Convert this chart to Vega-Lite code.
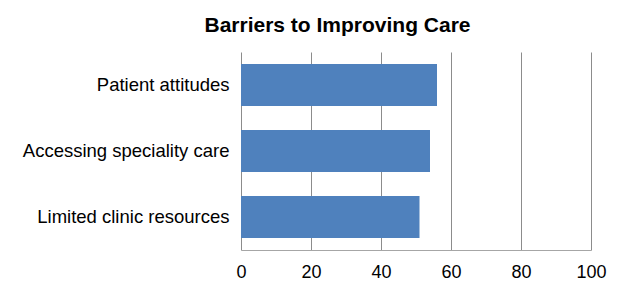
{
  "$schema": "https://vega.github.io/schema/vega-lite/v6.json",
  "width": 350,
  "height": 198,
  "padding": {"left": 21, "top": 15, "right": 10, "bottom": 5},
  "background": "white",
  "title": {
    "text": "Barriers to Improving Care",
    "font": "Liberation Sans",
    "fontSize": 21,
    "fontWeight": "bold",
    "color": "black",
    "anchor": "middle",
    "frame": "bounds",
    "dx": 24,
    "offset": 16
  },
  "data": {
    "values": [
      {"barrier": "Patient attitudes", "value": 56},
      {"barrier": "Accessing speciality care", "value": 54},
      {"barrier": "Limited clinic resources", "value": 51}
    ]
  },
  "mark": {"type": "bar", "color": "#4F81BD"},
  "encoding": {
    "y": {
      "field": "barrier",
      "type": "nominal",
      "sort": null,
      "scale": {"paddingInner": 0.364, "paddingOuter": 0.18},
      "axis": {
        "title": null,
        "ticks": false,
        "domain": false,
        "labelFont": "Liberation Sans",
        "labelFontSize": 18.5,
        "labelColor": "black",
        "labelPadding": 12,
        "labelLimit": 400,
        "minExtent": 220,
        "maxExtent": 220
      }
    },
    "x": {
      "field": "value",
      "type": "quantitative",
      "scale": {"domain": [0, 100], "nice": false},
      "axis": {
        "title": null,
        "values": [0, 20, 40, 60, 80, 100],
        "ticks": false,
        "domain": true,
        "domainColor": "#a6a6a6",
        "grid": true,
        "gridColor": "#8c8c8c",
        "labelFont": "Liberation Sans",
        "labelFontSize": 18,
        "labelColor": "black",
        "labelPadding": 13,
        "labelFlush": false
      }
    }
  },
  "config": {"view": {"stroke": null}}
}
